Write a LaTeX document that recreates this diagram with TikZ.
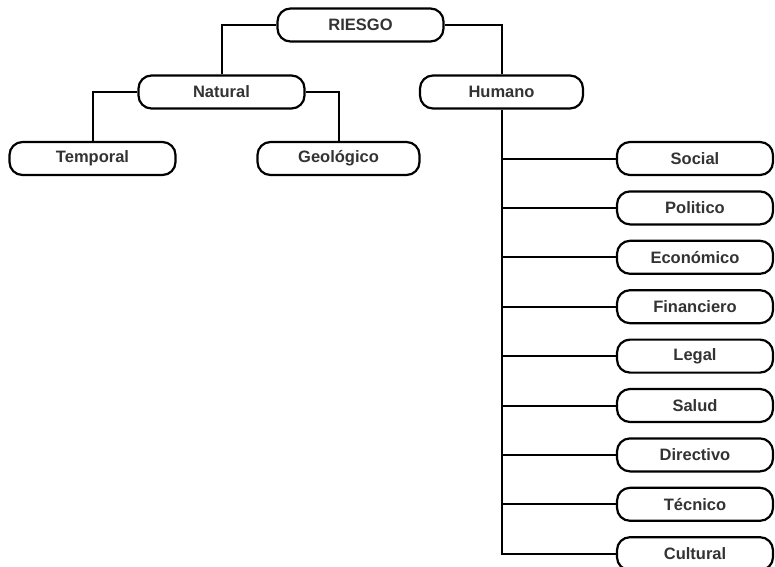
\documentclass[tikz,border=0pt]{standalone}
\usepackage{fontspec}
\setmainfont{Liberation Sans}
\definecolor{txt}{HTML}{333333}
\begin{document}
\begin{tikzpicture}[x=1pt,y=-1pt,
  box/.style={draw=black,line width=2.2pt,rounded corners=13pt,minimum height=33pt,
    inner sep=0pt,font=\fontsize{16.5}{19}\selectfont\bfseries,text=txt,fill=white},
  wide/.style={box,minimum width=166pt},
  narrow/.style={box,minimum width=156pt},
  link/.style={draw=black,line width=2pt}]
\useasboundingbox[fill=white] (0,0) rectangle (775,566);
\node[wide] (riesgo) at (360.5,25) {RIESGO};
\node[wide] (natural) at (221.5,92) {Natural};
\node[wide,minimum width=163pt] (humano) at (501.5,92) {Humano};
\node[wide] (temporal) at (92.5,158.5) {Temporal};
\node[wide,minimum width=162pt] (geologico) at (338.5,158.5) {Geológico};
\foreach \n/\t [count=\i from 0] in {social/Social,politico/Politico,economico/Económico,financiero/Financiero,legal/Legal,salud/Salud,directivo/Directivo,tecnico/Técnico,cultural/Cultural}
  \node[narrow] (\n) at (695,158.5+49.4*\i) {\t};
\draw[link] (riesgo.west) -| (natural.north);
\draw[link] (riesgo.east) -| (humano.north);
\draw[link] (natural.west) -| (temporal.north);
\draw[link] (natural.east) -| (geologico.north);
\coordinate (spineend) at (humano.south |- cultural.west);
\draw[link] (humano.south) -- (spineend) -- (cultural.west);
\foreach \n in {social,politico,economico,financiero,legal,salud,directivo,tecnico}
  \draw[link] (humano.south |- \n.west) -- (\n.west);
\end{tikzpicture}
\end{document}
